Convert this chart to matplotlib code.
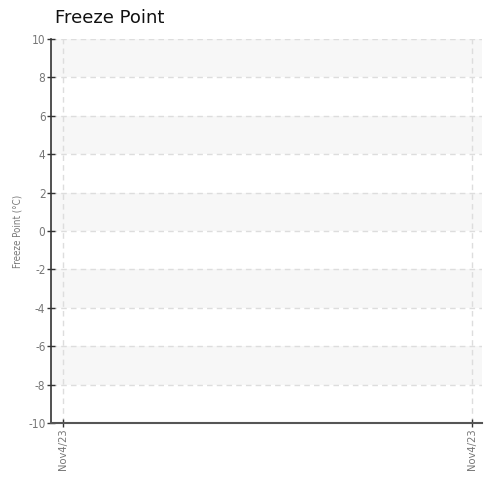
import matplotlib
matplotlib.use('Agg')
import matplotlib.pyplot as plt

# data
dates = ['Nov4/23', 'Nov4/23']
freeze_point = [None, None]   # no readings shown
y_ticks = [-10, -8, -6, -4, -2, 0, 2, 4, 6, 8, 10]
band_ranges = [(8, 10), (4, 6), (0, 2), (-4, -2), (-8, -6)]

plt.rcParams['font.family'] = ['DejaVu Sans']
plt.rcParams['font.stretch'] = 'condensed'
plt.rcParams['axes.unicode_minus'] = False

fig = plt.figure(figsize=(4.92, 4.82), dpi=100)
ax = fig.add_axes([51/492, 59/482, 431/492, 384/482])

for lo, hi in band_ranges:
    ax.axhspan(lo, hi, color='#f7f7f7', zorder=0, lw=0)

xs = list(range(len(dates)))
ax.plot(xs, [float('nan') if v is None else v for v in freeze_point], color='#2f7ed8')

ax.set_xlim(-12/409, 1 + 10/409)
ax.set_ylim(-10, 10)
ax.set_yticks(y_ticks)
ax.set_xticks(xs)
ax.set_xticklabels(dates, rotation=90, fontsize=8)

ax.grid(True, linestyle=(0, (4, 3)), color='#dddddd', linewidth=1)
ax.set_axisbelow(True)

for s in ['top', 'right']:
    ax.spines[s].set_visible(False)
ax.spines['left'].set_color('#333333')
ax.spines['left'].set_linewidth(1.2)
ax.spines['bottom'].set_color('#555555')
ax.spines['bottom'].set_linewidth(1.5)

ax.tick_params(axis='both', direction='inout', length=6, width=1, color='#333333',
               labelcolor='#777777', pad=1)
ax.tick_params(axis='y', labelsize=8.5)

ax.set_ylabel('Freeze Point (°C)', color='#777777', fontsize=7, labelpad=4)
fig.text(55/492, 1 - 18/482, 'Freeze Point', fontsize=13, color='#111111',
         family='DejaVu Sans', stretch='normal', va='center', ha='left')

fig.savefig('out.png', dpi=100)
